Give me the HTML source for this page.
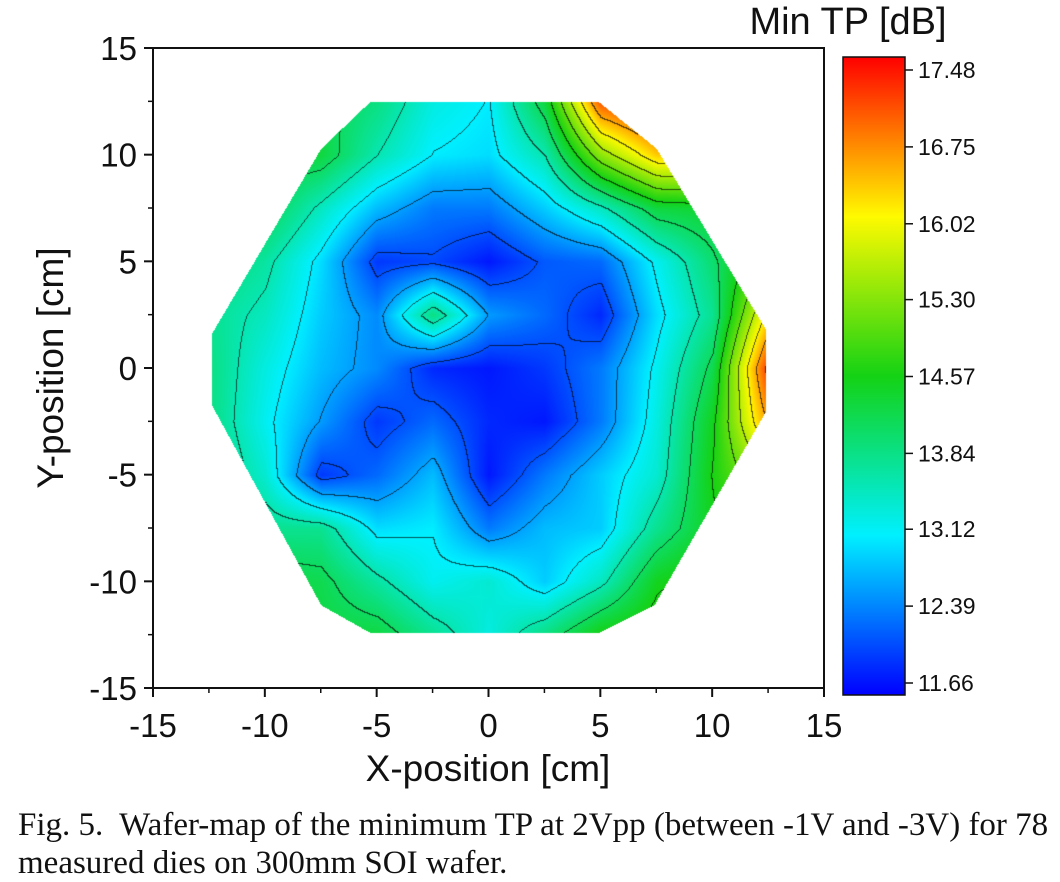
<!DOCTYPE html>
<html><head><meta charset="utf-8"><style>
body{margin:0;background:#fff;width:1060px;height:881px;overflow:hidden;position:relative;font-family:"Liberation Sans",sans-serif}
.t{position:absolute;color:#111}
</style></head><body>
<svg id="svg" width="1060" height="881" style="position:absolute;left:0;top:0"></svg>
<canvas id="cv" width="671" height="640" style="position:absolute;left:153px;top:48px"></canvas>
<div class="t" style="left:18px;top:806px;font:33px 'Liberation Serif',serif;line-height:38px;color:#111;white-space:nowrap">Fig. 5.&nbsp; Wafer-map of the minimum TP at 2Vpp (between -1V and -3V) for 78<br>measured dies on 300mm SOI wafer.</div>
<script>
const xs=[-12.5,-10,-7.5,-5,-2.5,0,2.5,5,7.5,10,12.5];
const ys=[12.5,10,7.5,5,2.5,0,-2.5,-5,-7.5,-10,-12.5];
const row1=[14.3,14.3,14.2,13.9,13.3,13.1,14.3,17.0,17.5,17.5,17.5];
const row2=[14.3,14.3,14.3,13.6,13.1,13.0,13.6,15.3,16.3,16.3,16.3];
const row3=[14.2,14.2,13.5,12.8,12.4,12.4,12.9,13.5,14.3,14.4,14.8];
const row4=[14.0,13.7,13.0,12.0,12.1,11.8,12.2,12.3,13.2,14.0,15.0];
const row5=[13.8,13.5,12.9,12.5,13.9,12.6,12.3,11.9,13.0,13.8,16.2];
const row6=[13.9,13.3,12.8,12.5,11.9,11.8,12.0,12.4,13.2,14.2,17.2];
const row7=[13.9,13.2,12.6,12.0,12.3,11.9,11.8,12.4,13.3,14.5,16.6];
const row8=[14.0,13.4,12.0,12.3,12.8,11.8,12.4,12.9,13.4,14.6,15.5];
const row9=[13.8,13.8,13.8,13.0,13.1,12.4,12.8,12.9,13.8,14.5,15.0];
const row10=[14.3,14.3,14.2,13.7,13.2,13.4,12.9,13.5,14.5,14.8,14.8];
const row11=[14.3,14.3,14.3,14.3,13.8,13.3,13.9,14.6,14.8,14.8,14.8];
const grid=[row1,row2,row3,row4,row5,row6,row7,row8,row9,row10,row11];
const waferEdge=[[-5.3,12.5],[4.9,12.5],[7.5,10.3],[12.4,1.8],[12.4,-2],[7.4,-11.1],[4.9,-12.4],[-5.3,-12.4],[-7.5,-11.1],[-12.4,-1.7],[-12.4,1.6],[-7.5,10.3]];
const cTicks=[17.48,16.75,16.02,15.30,14.57,13.84,13.12,12.39,11.66];
const xTicks=[-15,-10,-5,0,5,10,15], yTicks=[-15,-10,-5,0,5,10,15];
const vmin=11.66,vmax=17.48;
const X=v=>153+(v+15)*671/30, Y=v=>688-(v+15)*640/30;
const CY=v=>683-(v-vmin)*(683-70)/(vmax-vmin);
const stops=[[0,[0,0,255]],[0.25,[0,240,255]],[0.5,[20,210,20]],[0.75,[255,250,0]],[1,[255,0,0]]];
function cmap(v){let t=Math.max(0,Math.min(1,(v-vmin)/(vmax-vmin)));for(let i=1;i<stops.length;i++){if(t<=stops[i][0]){const a=stops[i-1],b=stops[i],f=(t-a[0])/(b[0]-a[0]);return a[1].map((c,k)=>Math.round(c+(b[1][k]-c)*f));}}return [255,0,0];}
function interp(x,y){let fx=(x-xs[0])/2.5,fy=(ys[0]-y)/2.5;fx=Math.max(0,Math.min(9.999,fx));fy=Math.max(0,Math.min(9.999,fy));const i=Math.floor(fx),j=Math.floor(fy),a=fx-i,b=fy-j;return grid[j][i]*(1-a)*(1-b)+grid[j][i+1]*a*(1-b)+grid[j+1][i]*(1-a)*b+grid[j+1][i+1]*a*b;}
function inside(x,y){let c=false;for(let i=0,j=waferEdge.length-1;i<waferEdge.length;j=i++){const [xi,yi]=waferEdge[i],[xj,yj]=waferEdge[j];if((yi>y)!=(yj>y)&&x<(xj-xi)*(y-yi)/(yj-yi)+xi)c=!c;}return c;}
const cv=document.getElementById('cv'),ctx=cv.getContext('2d'),W=671,H=640,img=ctx.createImageData(W,H);
const lev=new Int16Array(W*H).fill(-1);
for(let py=0;py<H;py++)for(let px=0;px<W;px++){const x=px*30/671-15,y=15-py*30/640;if(!inside(x,y))continue;const v=interp(x,y);lev[py*W+px]=Math.floor((v-vmin)/0.485);const c=cmap(v),o=(py*W+px)*4;img.data[o]=c[0];img.data[o+1]=c[1];img.data[o+2]=c[2];img.data[o+3]=255;}
for(let py=1;py<H;py++)for(let px=1;px<W;px++){const l=lev[py*W+px];if(l<0)continue;const a=lev[py*W+px-1],b=lev[(py-1)*W+px];if((a>=0&&a!=l)||(b>=0&&b!=l)){const o=(py*W+px)*4;img.data[o]*=0.35;img.data[o+1]*=0.35;img.data[o+2]*=0.35;}}
ctx.putImageData(img,0,0);
const svg=document.getElementById('svg'),NS='http://www.w3.org/2000/svg';
function el(t,a,txt){const e=document.createElementNS(NS,t);for(const k in a)e.setAttribute(k,a[k]);if(txt!==undefined)e.textContent=txt;svg.appendChild(e);return e;}
let e=el('rect',{x:153,y:48,width:671,height:640,fill:'none',stroke:'#111','stroke-width':2});

xTicks.forEach(v=>{let t=el('line',{x1:X(v),x2:X(v),y1:688,y2:697,stroke:'#111','stroke-width':2});
 let l=el('text',{x:X(v),y:737,'font-size':33,'text-anchor':'middle',fill:'#111','font-family':'Liberation Sans'},v);
 if(v<15){let m=el('line',{x1:X(v+2.5),x2:X(v+2.5),y1:688,y2:693,stroke:'#111','stroke-width':1.5});}});
yTicks.forEach(v=>{let t=el('line',{x1:144,x2:153,y1:Y(v),y2:Y(v),stroke:'#111','stroke-width':2});
 let l=el('text',{x:137,y:Y(v)+12,'font-size':33,'text-anchor':'end',fill:'#111','font-family':'Liberation Sans'},v);
 if(v<15){let m=el('line',{x1:148,x2:153,y1:Y(v+2.5),y2:Y(v+2.5),stroke:'#111','stroke-width':1.5});}});
e=el('text',{x:488,y:781,'font-size':37,'text-anchor':'middle',fill:'#111','font-family':'Liberation Sans'},'X-position [cm]');
e=el('text',{x:63,y:368,'font-size':37,'text-anchor':'middle',fill:'#111','font-family':'Liberation Sans',transform:'rotate(-90 63 368)'},'Y-position [cm]');
const defs=el('defs',{});const g=document.createElementNS(NS,'linearGradient');g.setAttribute('id','cg');g.setAttribute('x1',0);g.setAttribute('y1',1);g.setAttribute('x2',0);g.setAttribute('y2',0);defs.appendChild(g);
stops.forEach(s=>{const st=document.createElementNS(NS,'stop');st.setAttribute('offset',s[0]);st.setAttribute('stop-color','rgb('+s[1].join(',')+')');g.appendChild(st);});
e=el('rect',{x:843,y:57,width:62,height:638,fill:'url(#cg)',stroke:'#111','stroke-width':1.5});
cTicks.forEach(v=>{let t=el('line',{x1:905,x2:913,y1:CY(v),y2:CY(v),stroke:'#111','stroke-width':1.5});
 let l=el('text',{x:918,y:CY(v)+8,'font-size':23,fill:'#111','font-family':'Liberation Sans'},v.toFixed(2));});
e=el('text',{x:848,y:34,'font-size':38,'text-anchor':'middle',fill:'#111','font-family':'Liberation Sans'},'Min TP [dB]');
</script>
</body></html>
